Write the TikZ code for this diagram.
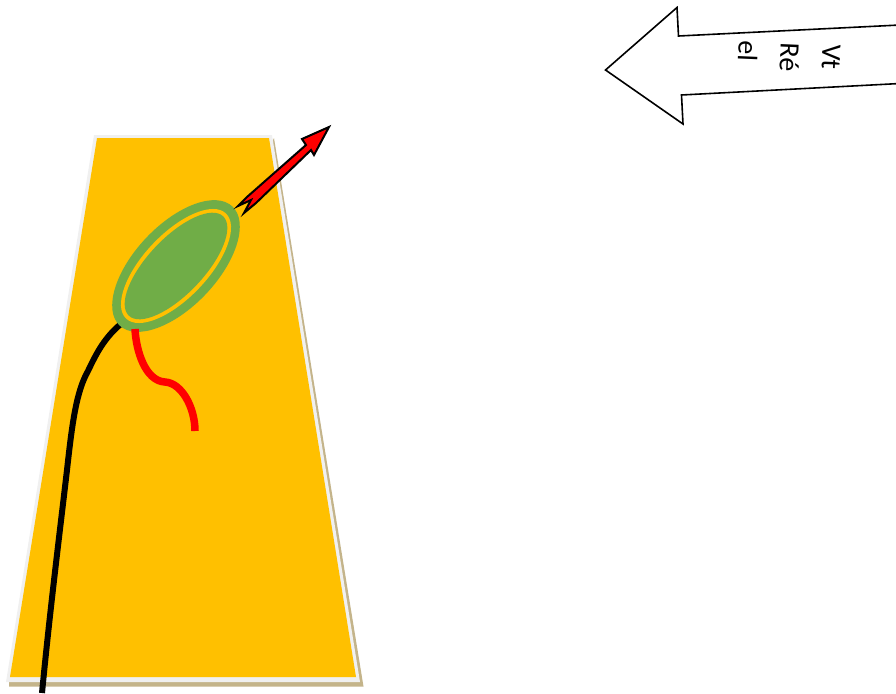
\documentclass[tikz,border=0pt]{standalone}
\usepackage{fontspec}
\setmainfont{Carlito}
\definecolor{padyellow}{HTML}{FFC000}
\definecolor{padgreen}{HTML}{70AD47}
\definecolor{padedge}{HTML}{F0F0F0}
\definecolor{padtan}{HTML}{C4B48A}
\tikzset{
  wire/.style={line width=6pt,line cap=butt},
  padshape/.style={line join=miter},
  sign/.style={draw=black,line width=1.6pt,fill=white,line join=miter},
  signtext/.style={rotate=-92.5,align=left,font=\fontsize{28pt}{42pt}\selectfont,inner sep=0pt}
}
\begin{document}
\begin{tikzpicture}[x=1pt,y=-1pt]
\useasboundingbox (0,0) rectangle (896,693);
\clip (0,0) rectangle (896,693);
% pad
\fill[padtan,padshape] (274,138) -- (363.5,686.5) -- (9,686.5) -- (9,680) -- cycle;
\fill[padedge,padshape] (94,135) -- (272,135) -- (360,682) -- (6,682) -- cycle;
\fill[padyellow,padshape] (97,138) -- (269,138) -- (356,677) -- (10,677) -- cycle;
% black wire
\draw[wire,black] (122,323) .. controls (105,337) and (97,352) .. (88,371)
  .. controls (76,392) and (72,425) .. (67,470)
  .. controls (60,530) and (50,610) .. (42,693);
% lead ellipse
\begin{scope}[shift={(176,266)},rotate=46.5]
  \fill[padgreen] (0,0) ellipse [x radius=82,y radius=41];
  \fill[padyellow] (0,0) ellipse [x radius=72.5,y radius=32];
  \fill[padgreen] (0,0) ellipse [x radius=68.5,y radius=28];
\end{scope}
% red wire
\draw[wire,red,line width=7.5pt] (135,329) .. controls (136,350) and (145,381) .. (165,382)
  .. controls (182,383) and (195,408) .. (195,431);
% red arrow
\draw[fill=red,draw=black,line width=2pt,line join=miter,miter limit=10]
  (329,127) -- (302,139) -- (306,145) -- (247,197) -- (238,206) -- (251,200) -- (244,213) -- (256,203) -- (311,150) -- (314,155) -- cycle;
% big arrow
\draw[sign] (605.5,70) -- (677,7.5) -- (678.5,36) -- (900,25) -- (900,83.5) -- (681.5,95) -- (683,124) -- cycle;
\node[signtext] (label) at (789,57) {Vt\\Ré\\el};
\end{tikzpicture}
\end{document}
